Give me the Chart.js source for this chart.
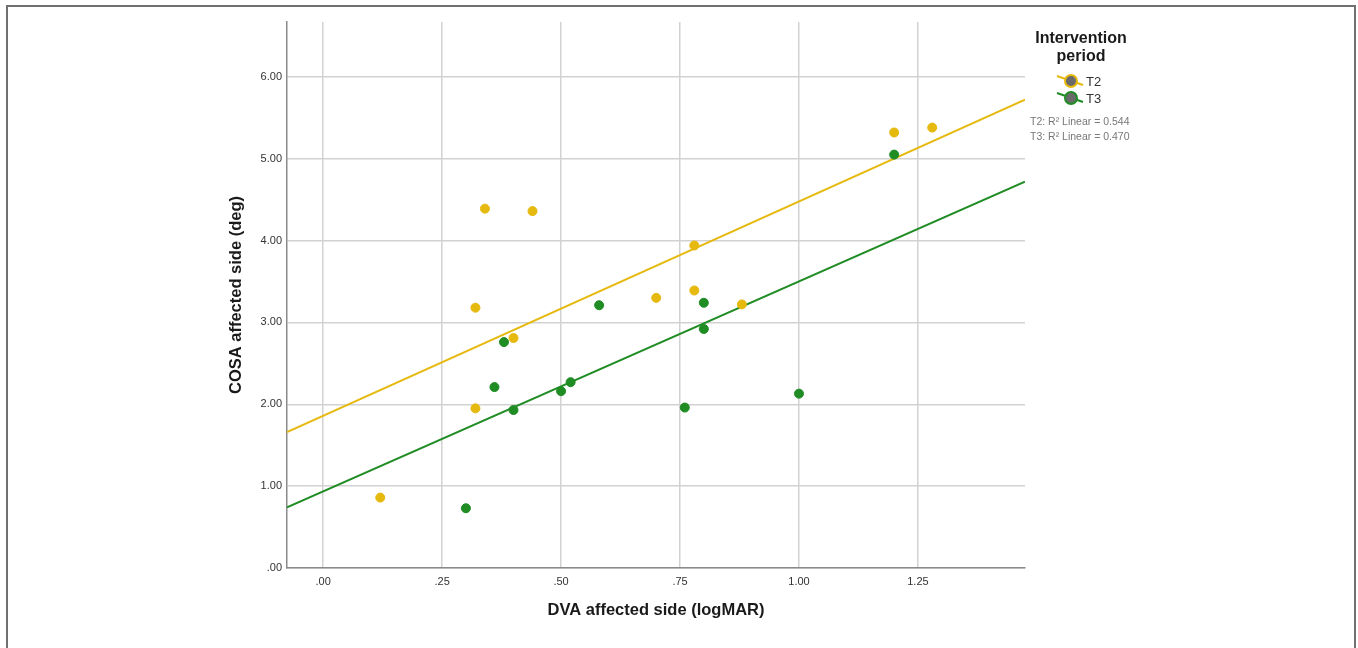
<!DOCTYPE html>
<html>
<head>
<meta charset="utf-8">
<script src="https://cdn.jsdelivr.net/npm/chart.js@4/dist/chart.umd.min.js"></script>
<style>
  html, body { margin: 0; padding: 0; background: #ffffff; }
  #wrap { position: relative; width: 1358px; height: 648px; }
</style>
</head>
<body>
<div id="wrap"><canvas id="c" width="1358" height="648"></canvas></div>
<script>
// ---- data ----
const seriesNames = ['T2', 'T3'];
const t2X = [0.12, 0.32, 0.32, 0.34, 0.44, 0.40, 0.70, 0.78, 0.78, 0.88, 1.20, 1.28];
const t2Y = [0.86, 1.95, 3.18, 4.39, 4.36, 2.81, 3.30, 3.94, 3.39, 3.22, 5.32, 5.38];
const t3X = [0.30, 0.36, 0.38, 0.40, 0.50, 0.52, 0.58, 0.80, 0.80, 0.76, 1.00, 1.20];
const t3Y = [0.73, 2.21, 2.76, 1.93, 2.16, 2.27, 3.21, 3.24, 2.92, 1.96, 2.13, 5.05];
// fit lines (end points at the plot edges)
const fitT2X = [-0.076, 1.475];
const fitT2Y = [1.66, 5.72];
const fitT3X = [-0.076, 1.475];
const fitT3Y = [0.74, 4.72];
const rSquared = ['T2: R\u00B2 Linear = 0.544', 'T3: R\u00B2 Linear = 0.470'];
const xTickValues = [0, 0.25, 0.5, 0.75, 1.0, 1.25];
const xTickLabels = ['.00', '.25', '.50', '.75', '1.00', '1.25'];
const yTickValues = [0, 1, 2, 3, 4, 5, 6];
const yTickLabels = ['.00', '1.00', '2.00', '3.00', '4.00', '5.00', '6.00'];
const xTitle = 'DVA affected side (logMAR)';
const yTitle = 'COSA affected side (deg)';
const legendTitle = ['Intervention', 'period'];

const YELLOW = '#E6B90E';
const GREEN = '#1F8C24';
const FONT = '"Liberation Sans", Arial, sans-serif';

const toPts = (xs, ys) => xs.map((x, i) => ({ x: x, y: ys[i] }));

function labelFor(values, labels, v) {
  for (let i = 0; i < values.length; i++) {
    if (Math.abs(values[i] - v) < 1e-6) return labels[i];
  }
  return '';
}

const extras = {
  id: 'extras',
  beforeDraw(chart) {
    const ctx = chart.ctx;
    ctx.save();
    ctx.fillStyle = '#ffffff';
    ctx.fillRect(0, 0, chart.width, chart.height);
    ctx.strokeStyle = '#707070';
    ctx.lineWidth = 2;
    ctx.beginPath();
    ctx.moveTo(7, 660);
    ctx.lineTo(7, 6);
    ctx.lineTo(1355, 6);
    ctx.lineTo(1355, 660);
    ctx.stroke();
    ctx.restore();
  },
  afterDraw(chart) {
    const ctx = chart.ctx;
    ctx.save();
    // legend title
    ctx.fillStyle = '#1a1a1a';
    ctx.font = 'bold 16px ' + FONT;
    ctx.textAlign = 'center';
    ctx.textBaseline = 'middle';
    ctx.fillText(legendTitle[0], 1081, 39);
    ctx.fillText(legendTitle[1], 1081, 57);
    // legend items
    const items = [
      { name: seriesNames[0], color: YELLOW, y: 81 },
      { name: seriesNames[1], color: GREEN, y: 98 }
    ];
    items.forEach(it => {
      ctx.strokeStyle = it.color;
      ctx.lineWidth = 2;
      ctx.beginPath();
      ctx.moveTo(1057, it.y - 5);
      ctx.lineTo(1083, it.y + 4);
      ctx.stroke();
      ctx.beginPath();
      ctx.arc(1071, it.y, 6, 0, Math.PI * 2);
      ctx.fillStyle = '#6a6a6a';
      ctx.fill();
      ctx.lineWidth = 2;
      ctx.strokeStyle = it.color;
      ctx.stroke();
      ctx.fillStyle = '#333333';
      ctx.font = '13px ' + FONT;
      ctx.textAlign = 'left';
      ctx.textBaseline = 'middle';
      ctx.fillText(it.name, 1086, it.y + 1);
    });
    // R squared notes
    ctx.fillStyle = '#777777';
    ctx.font = '10.5px ' + FONT;
    ctx.textAlign = 'left';
    ctx.textBaseline = 'middle';
    ctx.fillText(rSquared[0], 1030, 122);
    ctx.fillText(rSquared[1], 1030, 137);
    ctx.restore();
  }
};

new Chart(document.getElementById('c'), {
  type: 'scatter',
  data: {
    datasets: [
      {
        label: seriesNames[0],
        data: toPts(t2X, t2Y),
        backgroundColor: YELLOW,
        borderColor: YELLOW,
        borderWidth: 1,
        pointRadius: 4.5,
        order: 1
      },
      {
        label: seriesNames[1],
        data: toPts(t3X, t3Y),
        backgroundColor: GREEN,
        borderColor: GREEN,
        borderWidth: 1,
        pointRadius: 4.5,
        order: 1
      },
      {
        label: 'fit ' + seriesNames[0],
        type: 'line',
        data: toPts(fitT2X, fitT2Y),
        borderColor: YELLOW,
        borderWidth: 2,
        pointRadius: 0,
        fill: false,
        order: 2
      },
      {
        label: 'fit ' + seriesNames[1],
        type: 'line',
        data: toPts(fitT3X, fitT3Y),
        borderColor: GREEN,
        borderWidth: 2,
        pointRadius: 0,
        fill: false,
        order: 2
      }
    ]
  },
  options: {
    responsive: false,
    animation: false,
    devicePixelRatio: 1,
    layout: { padding: { left: 223, right: 333, top: 22, bottom: 24 } },
    plugins: {
      legend: { display: false },
      tooltip: { enabled: false }
    },
    scales: {
      x: {
        type: 'linear',
        min: fitT2X[0],
        max: fitT2X[1],
        afterFit(scale) { scale.height = 56; },
        afterBuildTicks(scale) { scale.ticks = xTickValues.map(v => ({ value: v })); },
        ticks: {
          includeBounds: false,
          padding: 7,
          color: '#333333',
          font: { family: FONT, size: 11 },
          maxRotation: 0,
          callback: (v) => labelFor(xTickValues, xTickLabels, v)
        },
        grid: { color: '#d2d2d2', lineWidth: 1.5, drawTicks: false },
        border: { display: true, color: '#8a8a8a', width: 1.5 },
        title: {
          display: true,
          text: xTitle,
          color: '#1a1a1a',
          font: { family: FONT, size: 16.5, weight: 'bold' },
          padding: { top: 4, bottom: 4 }
        }
      },
      y: {
        type: 'linear',
        min: 0,
        max: 6.67,
        afterFit(scale) { scale.width = 64; },
        afterBuildTicks(scale) { scale.ticks = yTickValues.map(v => ({ value: v })); },
        ticks: {
          includeBounds: false,
          padding: 5,
          color: '#333333',
          font: { family: FONT, size: 11 },
          callback: (v) => labelFor(yTickValues, yTickLabels, v)
        },
        grid: { color: '#d2d2d2', lineWidth: 1.5, drawTicks: false },
        border: { display: true, color: '#8a8a8a', width: 1.5 },
        title: {
          display: true,
          text: yTitle,
          color: '#1a1a1a',
          font: { family: FONT, size: 16.5, weight: 'bold' },
          padding: { top: 4, bottom: 4 }
        }
      }
    }
  },
  plugins: [extras]
});
</script>
</body>
</html>
